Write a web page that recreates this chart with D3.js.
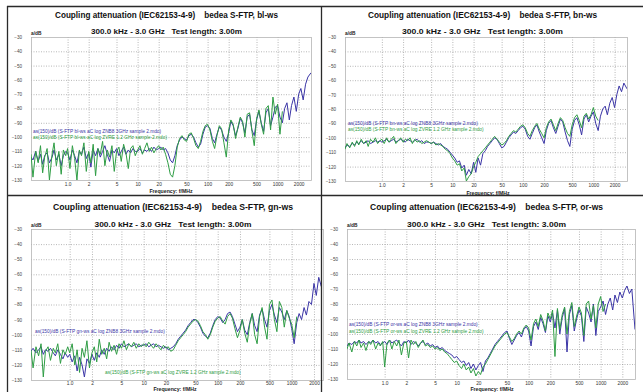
<!DOCTYPE html>
<html><head><meta charset="utf-8">
<script src="https://cdn.jsdelivr.net/npm/d3@7"></script>
<style>
html,body{margin:0;padding:0;background:#fff;}
svg{display:block;font-family:"Liberation Sans",Arial,sans-serif;}
</style></head>
<body><svg id="c" width="643" height="392"></svg>
<script>
// ---------- DATA ----------
const freqs = [0.30,0.32,0.35,0.38,0.41,0.44,0.47,0.51,0.55,0.60,0.64,0.69,0.75,0.81,0.87,0.94,
 1.0,1.08,1.17,1.26,1.36,1.47,1.58,1.71,1.85,2.0,2.15,2.32,2.51,2.71,2.93,3.16,3.41,3.68,3.98,4.30,4.64,5.01,5.41,5.84,6.31,6.81,7.36,7.94,8.58,9.26,
 10,10.8,11.7,12.6,13.6,14.7,15.8,17.1,18.5,20,21.5,23.2,25.1,27.1,29.3,31.6,34.1,36.8,39.8,43,46.4,50.1,54.1,58.4,63.1,68.1,73.6,79.4,85.8,92.6,
 100,108,117,126,136,147,158,171,185,200,215,232,251,271,293,316,341,368,398,430,464,501,541,584,631,681,736,794,858,926,
 1000,1080,1170,1260,1360,1470,1580,1710,1850,2000,2150,2320,2510,2710,3000];

const xTickValues = [1,2,5,10,20,50,100,200,500,1000,2000];
const xTickLabels = ["1.0","2","5","10","20","50","100","200","500","1000","2000"];
const yTicks = [-30,-40,-50,-60,-70,-80,-90,-100,-110,-120,-130];

const pairs = ["bl-ws","bn-ws","gn-ws","or-ws"];

const blBlue = [-114,-116,-110,-117,-112,-119,-113,-111,-118,-114,-109,-116,-112,-120,-113,-110,
 -111,-116,-109,-113,-118,-110,-112,-107,-115,-111,-121,-109,-113,-108,-114,-110,-106,-112,-117,-109,-111,-108,-113,-110,-107,-112,-109,-111,-108,-110,
 -110,-108,-111,-109,-110,-108,-110,-107,-109,-108,-107,-109,-108,-111,-116,-118,-113,-106,-102,-100,-101,-102,-99,-98,-100,-104,-107,-105,-98,-93,
 -92,-94,-101,-104,-98,-93,-95,-100,-103,-97,-89,-92,-99,-94,-87,-90,-97,-86,-84,-95,-99,-88,-82,-90,-96,-83,-80,-92,-86,-79,
 -78,-86,-90,-80,-76,-88,-78,-72,-82,-70,-66,-74,-63,-58,-55];
const blGreen = [-112,-128,-110,-118,-106,-125,-114,-108,-130,-112,-104,-120,-110,-126,-109,-113,
 -108,-122,-106,-115,-130,-109,-113,-104,-124,-110,-118,-105,-127,-108,-112,-103,-120,-109,-114,-106,-124,-110,-107,-117,-105,-111,-122,-108,-106,-113,
 -109,-106,-112,-108,-104,-110,-107,-111,-108,-106,-109,-107,-112,-118,-126,-128,-120,-107,-101,-99,-102,-103,-98,-97,-101,-106,-108,-103,-96,-92,
 -91,-95,-103,-108,-99,-92,-94,-104,-114,-95,-88,-91,-101,-93,-86,-89,-100,-84,-83,-96,-106,-87,-81,-91,-98,-80,-78,-95,-72,-84,
 -77,-98,-82];

const bnBlue = [-107,-105,-106,-104,-105,-103,-104,-102,-104,-103,-102,-104,-103,-102,-103,-102,
 -103,-102,-101,-103,-102,-101,-103,-102,-101,-102,-103,-101,-102,-103,-102,-101,-103,-102,-104,-103,-103,-104,-103,-104,-105,-104,-106,-107,-108,-110,
 -112,-114,-117,-116,-121,-119,-126,-122,-125,-117,-124,-114,-119,-111,-109,-106,-104,-102,-100,-101,-104,-107,-106,-103,-100,-98,-96,-97,-95,-93,
 -92,-94,-99,-101,-97,-93,-91,-96,-100,-104,-95,-90,-88,-93,-97,-92,-87,-89,-96,-102,-106,-94,-88,-86,-91,-98,-87,-84,-89,-85,
 -82,-90,-95,-85,-80,-78,-84,-76,-72,-79,-70,-64,-68,-62,-66];
const bnGreen = [-108,-104,-107,-103,-106,-102,-105,-101,-104,-102,-106,-101,-103,-100,-104,-102,
 -101,-104,-100,-103,-101,-99,-104,-102,-100,-103,-101,-102,-100,-104,-101,-103,-102,-104,-103,-102,-103,-104,-103,-105,-104,-105,-106,-108,-109,-111,
 -114,-116,-119,-118,-123,-121,-130,-127,-125,-120,-117,-113,-111,-109,-107,-105,-103,-101,-99,-101,-103,-105,-104,-102,-99,-97,-95,-96,-94,-92,
 -91,-93,-97,-99,-95,-92,-90,-94,-97,-100,-93,-89,-87,-91,-95,-90,-86,-88,-93,-97,-99,-91,-86,-84,-88,-93,-85,-83,-87,-84,
 -79,-85,-88];

const gnBlue = [-111,-109,-112,-110,-108,-113,-110,-111,-109,-112,-114,-110,-113,-116,-112,-115,
 -113,-118,-114,-124,-115,-120,-128,-116,-119,-113,-117,-112,-115,-110,-113,-109,-111,-108,-110,-107,-109,-106,-108,-107,-106,-108,-107,-106,-108,-107,
 -107,-106,-108,-107,-106,-108,-107,-108,-109,-108,-110,-109,-108,-106,-103,-101,-99,-97,-94,-92,-90,-90,-92,-95,-99,-101,-102,-99,-94,-90,
 -88,-89,-92,-90,-86,-85,-88,-93,-98,-95,-90,-97,-100,-92,-86,-94,-98,-87,-83,-90,-95,-84,-80,-87,-92,-82,-85,-90,-84,-88,
 -96,-106,-92,-86,-90,-82,-87,-78,-80,-66,-74,-62,-68,-58,-62];
const gnGreen = [-110,-122,-108,-114,-106,-128,-111,-108,-117,-109,-112,-106,-119,-110,-113,-108,
 -112,-106,-120,-110,-125,-109,-115,-104,-122,-112,-108,-118,-103,-113,-109,-116,-105,-111,-107,-113,-106,-109,-104,-110,-106,-108,-105,-109,-106,-108,
 -106,-108,-105,-107,-109,-106,-108,-110,-107,-109,-108,-111,-110,-107,-104,-102,-100,-98,-95,-93,-91,-90,-91,-94,-98,-100,-103,-100,-95,-91,
 -89,-88,-91,-93,-88,-86,-89,-96,-102,-97,-90,-99,-105,-93,-86,-100,-106,-88,-82,-95,-103,-80,-77,-90,-98,-78,-82,-95,-84,-89,
 -93,-102,-88];

const orBlue = [-108,-106,-107,-105,-106,-104,-106,-105,-107,-105,-106,-104,-106,-105,-107,-106,
 -105,-107,-104,-106,-105,-104,-106,-108,-105,-106,-104,-107,-105,-106,-108,-106,-105,-107,-106,-108,-107,-109,-108,-110,-109,-111,-112,-113,-114,-116,
 -115,-117,-119,-118,-121,-119,-123,-120,-124,-121,-119,-125,-118,-116,-113,-110,-107,-105,-103,-101,-99,-98,-103,-107,-104,-101,-99,-102,-97,-95,
 -98,-108,-95,-92,-97,-89,-93,-99,-88,-92,-86,-96,-84,-100,-89,-83,-112,-87,-81,-98,-90,-84,-88,-105,-82,-86,-92,-80,-101,-85,
 -82,-78,-87,-80,-76,-84,-74,-79,-72,-76,-71,-68,-73,-70,-97];
const orGreen = [-110,-106,-112,-105,-108,-104,-109,-106,-111,-105,-107,-104,-110,-106,-108,-105,
 -122,-106,-104,-110,-105,-108,-104,-114,-106,-105,-116,-104,-107,-105,-109,-106,-104,-108,-107,-109,-108,-110,-109,-111,-110,-112,-113,-115,-117,-119,
 -118,-121,-123,-120,-124,-122,-126,-123,-128,-125,-127,-122,-120,-117,-114,-111,-108,-106,-104,-102,-100,-99,-102,-105,-103,-100,-98,-100,-96,-94,
 -96,-104,-93,-90,-95,-87,-91,-98,-86,-90,-84,-115,-83,-97,-87,-82,-100,-85,-79,-95,-88,-82,-86,-101,-80,-78,-90,-81,-96,-80,
 -75,-85,-80];

// ---------- LAYOUT ----------
const panels = [
 {pair:pairs[0], blue:blBlue, green:blGreen, x0:31, x1:311, y0:37, y1:180, clipR:320,
  tx:166.5, ty:18, tw:223, sy:34, sw:151, tickY:186.5, flx:171, fly:193, lx:33, lyb:133, lyg:139},
 {pair:pairs[1], blue:bnBlue, green:bnGreen, x0:345, x1:627, y0:37, y1:181, clipR:643,
  tx:482.5, ty:18, tw:229, sy:34, sw:161, tickY:187.5, flx:488, fly:194.5, lx:348, lyb:125, lyg:131},
 {pair:pairs[2], blue:gnBlue, green:gnGreen, x0:31, x1:327, y0:229, y1:380, clipR:321,
  tx:173, ty:210, tw:240, sy:227, sw:157, tickY:385.5, flx:175, fly:390.5, lx:35, lyb:333, lyg:374, lgx:105},
 {pair:pairs[3], blue:orBlue, green:orGreen, x0:347, x1:635, y0:229, y1:379, clipR:643,
  tx:486.5, ty:210, tw:233, sy:227, sw:159, tickY:385.5, flx:492, fly:390.5, lx:349, lyb:326, lyg:333}
];

const blueColor = "#3b35a6", greenColor = "#2f9d45";
const svg = d3.select("#c");

panels.forEach((p, k) => {
  const g = svg.append("g");
  const x = d3.scaleLog().domain([0.3, 3000]).range([p.x0, p.x1]);
  const y = d3.scaleLinear().domain([-30, -130]).range([p.y0, p.y1]);
  const right = Math.min(p.x1, p.clipR);

  g.append("text").attr("x", p.tx).attr("y", p.ty).attr("text-anchor","middle")
    .attr("font-size", 8.2).attr("font-weight","bold").attr("fill","#111")
    .attr("textLength", p.tw).attr("lengthAdjust","spacingAndGlyphs")
    .text("Coupling attenuation (IEC62153-4-9)    bedea S-FTP, " + p.pair)
    .style("white-space","pre");
  g.append("text").attr("x", p.tx).attr("y", p.sy).attr("text-anchor","middle")
    .attr("font-size", 7.8).attr("font-weight","bold").attr("fill","#111")
    .attr("textLength", p.sw).attr("lengthAdjust","spacingAndGlyphs")
    .text("300.0 kHz - 3.0 GHz   Test length: 3.00m")
    .style("white-space","pre");

  const clipId = "clip" + k;
  svg.append("clipPath").attr("id", clipId).append("rect")
    .attr("x", p.x0).attr("y", p.y0).attr("width", right - p.x0).attr("height", p.y1 - p.y0);

  const grid = g.append("g").attr("clip-path", `url(#${clipId})`);
  grid.selectAll("line.h").data(yTicks.slice(1, -1)).join("line")
    .attr("x1", p.x0).attr("x2", p.x1).attr("y1", d => y(d)+0.5).attr("y2", d => y(d)+0.5)
    .attr("stroke", "#9a9a9a").attr("stroke-width", 0.7).attr("stroke-dasharray", "1,1.5");
  grid.selectAll("line.v").data(xTickValues).join("line")
    .attr("x1", d => x(d)+0.5).attr("x2", d => x(d)+0.5).attr("y1", p.y0).attr("y2", p.y1)
    .attr("stroke", "#9a9a9a").attr("stroke-width", 0.7).attr("stroke-dasharray", "1,1.5");

  g.append("rect").attr("x", p.x0+0.5).attr("y", p.y0+0.5)
    .attr("width", right - p.x0 - (p.clipR < p.x1 ? -2 : 0)).attr("height", p.y1 - p.y0)
    .attr("fill","none").attr("stroke","#b5b5b5").attr("stroke-width",0.8);

  const line = d3.line().x(d => x(d.f)).y(d => y(d.v));
  const plot = g.append("g").attr("clip-path", `url(#${clipId})`);
  plot.append("path").datum(p.blue.map((v,i)=>({f:freqs[i], v})))
    .attr("d", line).attr("fill","none").attr("stroke", blueColor).attr("stroke-width", 1);
  plot.append("path").datum(p.green.map((v,i)=>({f:freqs[i], v})))
    .attr("d", line).attr("fill","none").attr("stroke", greenColor).attr("stroke-width", 1);

  // y axis
  const ya = d3.axisLeft(y).tickValues(yTicks).tickFormat(d3.format("d")).tickSize(0).tickPadding(9);
  const yg = g.append("g").attr("transform", `translate(${p.x0},0)`).call(ya);
  yg.select(".domain").remove();
  yg.selectAll("text").attr("font-size", 4.6).attr("fill", "#444").attr("font-family","Liberation Sans, Arial");

  // x axis
  const xa = d3.axisBottom(x).tickValues(xTickValues).tickFormat((d,i)=>xTickLabels[i]).tickSize(0).tickPadding(0);
  const xg = g.append("g").attr("transform", `translate(0,${p.tickY - 4})`).call(xa);
  xg.select(".domain").remove();
  xg.selectAll("text").attr("font-size", 4.8).attr("fill", "#333").attr("dy", "0.3em").attr("y", 2)
    .attr("font-family","Liberation Sans, Arial");
  xg.selectAll(".tick").filter(d => x(d) > p.clipR - 4).remove();

  g.append("text").attr("x", p.x0).attr("y", p.y0 - 2).attr("font-size", 4.8).attr("font-weight","bold")
    .attr("fill","#222").text("a/dB");
  g.append("text").attr("x", p.flx).attr("y", p.fly).attr("text-anchor","middle")
    .attr("font-size", 5.2).attr("font-weight","bold").attr("fill","#222").text("Frequency: f/MHz");

  g.append("text").attr("x", p.lx).attr("y", p.lyb).attr("font-size", 4.8).attr("fill", blueColor)
    .text(`as(150)/dB (S-FTP ${p.pair} aC log ZNB8 3GHz sample 2.mdo)`);
  g.append("text").attr("x", p.lgx || p.lx).attr("y", p.lyg).attr("font-size", 4.8).attr("fill", greenColor)
    .text(`as(150)/dB (S-FTP ${p.pair} aC log ZVRE 1.2 GHz sample 2.mdo)`);
});

// frame lines
const frame = svg.append("g").attr("stroke", "#2a2a2a").attr("stroke-width", 1.3);
frame.append("line").attr("x1", 7).attr("x2", 643).attr("y1", 6.5).attr("y2", 6.5);
frame.append("line").attr("x1", 7.5).attr("x2", 7.5).attr("y1", 6).attr("y2", 392);
frame.append("line").attr("x1", 321.5).attr("x2", 321.5).attr("y1", 6).attr("y2", 392);
frame.append("line").attr("x1", 7).attr("x2", 643).attr("y1", 195.5).attr("y2", 195.5);
</script></body></html>
